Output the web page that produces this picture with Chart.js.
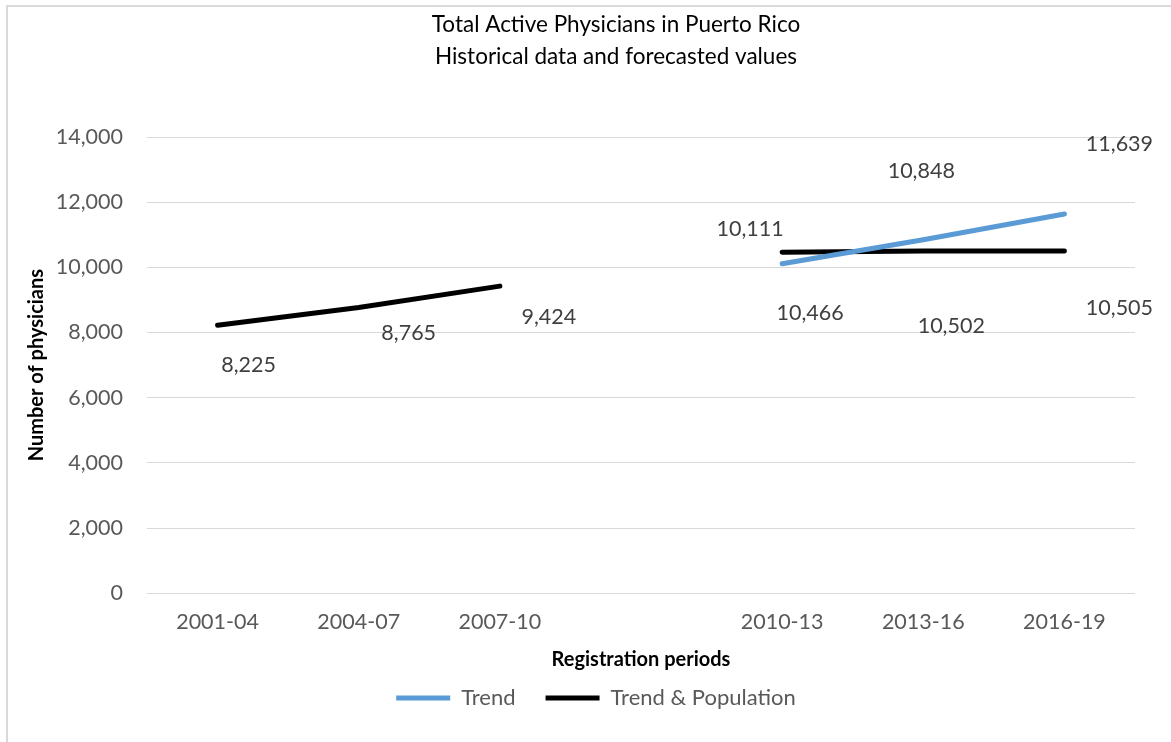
<!DOCTYPE html>
<html>
<head>
<meta charset="utf-8">
<script src="https://cdn.jsdelivr.net/npm/chart.js@4"></script>
<style>
  html, body { margin: 0; padding: 0; background: #fff; }
  #wrap { position: relative; width: 1171px; height: 742px; overflow: hidden; }
  #frame { position: absolute; left: 6px; top: 5px; right: -10px; bottom: -10px;
           border-left: 2px solid #d9d9d9; border-top: 2px solid #d9d9d9; }
  canvas { position: absolute; left: 0; top: 0; }
</style>
</head>
<body>
<div id="wrap">
  <div id="frame"></div>
  <canvas id="grafico" width="1171" height="742"></canvas>
</div>
<script>
const periodos = ['2001-04', '2004-07', '2007-10', '', '2010-13', '2013-16', '2016-19'];
const tendencia = [null, null, null, null, 10111, 10848, 11639];
const tendenciaPoblacion = [8225, 8765, 9424, null, 10466, 10502, 10505];
const ticksY = [0, 2000, 4000, 6000, 8000, 10000, 12000, 14000];
const titulo = ['Total Active Physicians in Puerto Rico', 'Historical data and forecasted values'];

// desplazamiento de cada etiqueta respecto a su punto (px)
const despTendencia = [null, null, null, null, [-32, -35], [-2, -69], [55, -70]];
const despPoblacion = [[31, 40], [50, 25], [49, 31], null, [28, 61], [28, 75], [55, 57]];

const fuente = "Lato, 'Open Sans', sans-serif";

// etiquetas de datos y título (centrado como en Excel)
const etiquetas = {
    id: 'etiquetas',
    afterDatasetsDraw(chart) {
        const ctx = chart.ctx;
        ctx.save();
        ctx.font = '21.5px ' + fuente;
        ctx.fillStyle = '#404040';
        ctx.textAlign = 'center';
        ctx.textBaseline = 'middle';
        chart.data.datasets.forEach((ds, i) => {
            const meta = chart.getDatasetMeta(i);
            ds.data.forEach((v, j) => {
                const d = ds.desp[j];
                if (v === null || !d) return;
                const p = meta.data[j];
                ctx.fillText(v.toLocaleString('en-US'), p.x + d[0], p.y + d[1]);
            });
        });
        ctx.font = '22.5px ' + fuente;
        ctx.fillStyle = '#000000';
        titulo.forEach((t, k) => ctx.fillText(t, 616, 25 + k * 32));
        ctx.restore();
    }
};

const ctx = document.getElementById('grafico').getContext('2d');

const chart = new Chart(ctx, {
    type: 'line',
    data: {
        labels: periodos,
        datasets: [{
            label: 'Trend',
            data: tendencia,
            desp: despTendencia,
            borderColor: '#5b9bd5',
            backgroundColor: '#5b9bd5',
            borderWidth: 5,
            borderCapStyle: 'round',
            pointRadius: 0,
            tension: 0
        }, {
            label: 'Trend & Population',
            data: tendenciaPoblacion,
            desp: despPoblacion,
            borderColor: '#000000',
            backgroundColor: '#000000',
            borderWidth: 5,
            borderCapStyle: 'round',
            pointRadius: 0,
            tension: 0
        }]
    },
    options: {
        responsive: false,
        animation: false,
        layout: { padding: { left: 25, right: 4, top: 137, bottom: 23 } },
        plugins: {
            title: { display: false },
            legend: {
                position: 'bottom',
                labels: {
                    usePointStyle: true,
                    pointStyle: 'line',
                    pointStyleWidth: 54,
                    color: '#595959',
                    font: { family: fuente, size: 22 },
                    padding: 30
                }
            },
            tooltip: { enabled: false }
        },
        scales: {
            x: {
                offset: true,
                grid: { display: false, drawTicks: false },
                border: { display: false },
                ticks: { color: '#595959', font: { family: fuente, size: 21.5 }, padding: 16 },
                title: {
                    display: true,
                    text: 'Registration periods',
                    color: '#000000',
                    font: { family: fuente, size: 20, weight: 'bold' },
                    padding: { top: -3, bottom: -15 }
                }
            },
            y: {
                min: 0,
                max: 14000,
                afterBuildTicks(axis) { axis.ticks = ticksY.map(v => ({ value: v })); },
                afterFit(axis) { axis.width = 122; },
                grid: { color: '#d9d9d9', lineWidth: 1, drawTicks: false },
                border: { display: false },
                ticks: {
                    color: '#595959',
                    font: { family: fuente, size: 21.5 },
                    padding: 24,
                    callback: v => v.toLocaleString('en-US')
                },
                title: {
                    display: true,
                    text: 'Number of physicians',
                    color: '#000000',
                    font: { family: fuente, size: 20, weight: 'bold' },
                    padding: { top: 0, bottom: 0 }
                }
            },
            // eje vacío a la derecha, solo reserva espacio
            y2: {
                display: true,
                position: 'right',
                afterFit(axis) { axis.width = 32; },
                grid: { display: false },
                border: { display: false },
                ticks: { display: false }
            }
        }
    },
    plugins: [etiquetas]
});
</script>
</body>
</html>
